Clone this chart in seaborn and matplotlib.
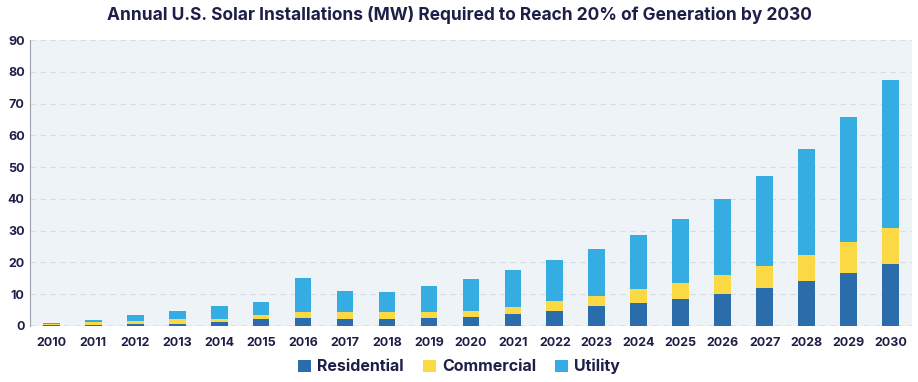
import pandas as pd
import seaborn as sns
import matplotlib.pyplot as plt
from matplotlib.patches import Patch

years = [str(y) for y in range(2010, 2031)]
residential = [0.2, 0.3, 0.5, 0.7, 1.3, 2.1, 2.5, 2.2, 2.2, 2.6, 2.8, 3.7, 4.8, 6.1, 7.1, 8.5, 10.1, 12.0, 14.1, 16.6, 19.5]
commercial = [0.4, 0.9, 1.0, 1.3, 1.0, 1.3, 1.8, 2.2, 2.2, 1.8, 1.9, 2.2, 3.0, 3.4, 4.4, 5.1, 5.9, 6.9, 8.1, 9.7, 11.4]
utility = [0.4, 0.7, 1.9, 2.7, 4.0, 4.0, 10.9, 6.5, 6.2, 8.2, 10.2, 11.6, 13.0, 14.8, 17.2, 20.2, 24.1, 28.3, 33.5, 39.4, 46.5]

df = pd.DataFrame({'year': years, 'Residential': residential,
                   'Commercial': commercial, 'Utility': utility})
df['res_com'] = df['Residential'] + df['Commercial']
df['total'] = df['res_com'] + df['Utility']

colors = {'Residential': '#2b6cab', 'Commercial': '#fbd944', 'Utility': '#36ade2'}
navy = '#1d1f48'

sns.set_style('white')
plt.rcParams['font.family'] = ['Inter', 'DejaVu Sans']

fig = plt.figure(figsize=(9.18, 3.82), dpi=100)
ax = fig.add_axes([0.033, 0.147, 0.96, 0.748])
ax.set_facecolor('#eef3f7')

# stacked bars drawn as overlapping cumulative totals
for col, key in [('total', 'Utility'), ('res_com', 'Commercial'), ('Residential', 'Residential')]:
    sns.barplot(data=df, x='year', y=col, color=colors[key], width=0.4, saturation=1,
                linewidth=0, ax=ax, zorder=3)

ax.set_ylim(0, 90)
ax.set_xlim(-0.5, 20.5)
ax.set_yticks(range(0, 91, 10))
ax.yaxis.grid(True, linestyle=(0, (5, 4)), color='#d6dde4', linewidth=0.8, zorder=0)
ax.axhline(0, color='#9aa3ad', linestyle=(0, (4, 4)), linewidth=1, zorder=2)
ax.set(xlabel='', ylabel='')
for s in ['top', 'right', 'bottom']:
    ax.spines[s].set_visible(False)
ax.spines['left'].set_color('#9aa3ad')
ax.tick_params(axis='both', length=0, colors=navy)
plt.setp(ax.get_xticklabels(), fontsize=9, fontweight='bold')
plt.setp(ax.get_yticklabels(), fontsize=9, fontweight='bold')
ax.tick_params(axis='x', pad=8)
ax.tick_params(axis='y', pad=4)

fig.suptitle('Annual U.S. Solar Installations (MW) Required to Reach 20% of Generation by 2030',
             x=0.5, y=0.985, fontsize=12.5, fontweight='bold', color=navy)

handles = [Patch(facecolor=colors[k], edgecolor='none', label=k) for k in ['Residential', 'Commercial', 'Utility']]
fig.legend(handles=handles, loc='center', bbox_to_anchor=(0.5, 0.04), ncol=3, frameon=False,
           prop={'weight': 'bold', 'size': 11.5}, labelcolor=navy, handlelength=0.8,
           handleheight=0.8, handletextpad=0.4, columnspacing=1.2)

fig.savefig('out.png', dpi=100, facecolor='white')
